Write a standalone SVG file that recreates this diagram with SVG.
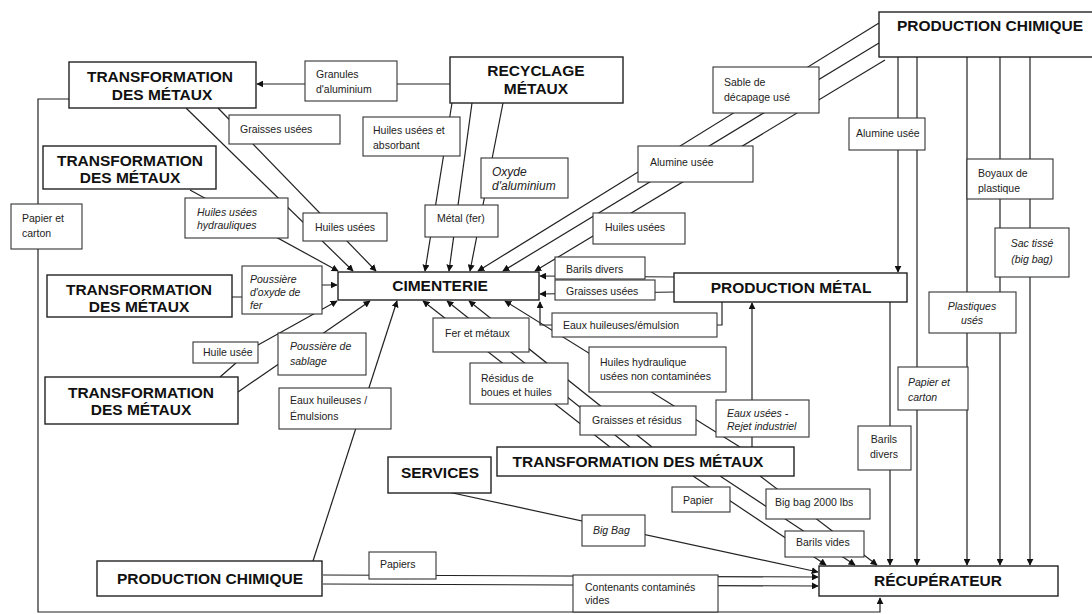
<svg xmlns="http://www.w3.org/2000/svg" width="1092" height="614" viewBox="0 0 1092 614">
<style>
.bg{fill:#fff}
.n{fill:#fff;stroke:#222;stroke-width:1.4}
.l{fill:#fff;stroke:#333;stroke-width:1.1}
.t{font-family:"Liberation Sans",Arial,sans-serif;font-weight:bold;font-size:15.5px;fill:#111;text-anchor:middle}
.s{font-family:"Liberation Sans",Arial,sans-serif;font-size:10.5px;fill:#222}
.i{font-style:italic}
.c{text-anchor:middle}
.e{fill:none;stroke:#222;stroke-width:1.2}
.a{marker-end:url(#ah)}
</style>
<defs>
<marker id="ah" viewBox="0 0 10 10" refX="9" refY="5" markerWidth="7" markerHeight="7" markerUnits="userSpaceOnUse" orient="auto">
<path d="M0,0 L10,5 L0,10 z" fill="#111"/>
</marker>
</defs>
<rect class="bg" x="0" y="0" width="1092" height="614"/>

<g id="connectors">
<path class="e a" d="M69,99 H38 V612 H880 V598"/>
<path class="e a" d="M450,84 H257"/>
<path class="e a" d="M186,108 L353,271"/>
<path class="e a" d="M218,108 L376,271"/>
<path class="e a" d="M190,190 L338,271"/>
<path class="e a" d="M452,103 L425,271"/>
<path class="e a" d="M472,103 L449,271"/>
<path class="e a" d="M503,103 L470,271"/>
<path class="e a" d="M879,23 L478,271"/>
<path class="e a" d="M879,43 L503,271"/>
<path class="e a" d="M885,60 L535,271"/>
<path class="e a" d="M675,277 L540,276"/>
<path class="e a" d="M675,292 L540,294"/>
<path class="e a" d="M722,302 V325 H540 V302"/>
<path class="e a" d="M898,57 V272"/>
<path class="e a" d="M917,57 V565"/>
<path class="e a" d="M967,57 V565"/>
<path class="e a" d="M1000,57 V565"/>
<path class="e a" d="M1030,57 V565"/>
<path class="e a" d="M890,302 V565"/>
<path class="e a" d="M232,297 H242 M322,285 H337"/>
<path class="e a" d="M220,377 L236,363 M258,345 L337,301"/>
<path class="e a" d="M238,392 L370,301"/>
<path class="e a" d="M313,561 L397,301"/>
<path class="e a" d="M610,447 L423,301"/>
<path class="e a" d="M630,447 L447,301"/>
<path class="e a" d="M652,447 L469,301"/>
<path class="e a" d="M740,447 L505,301"/>
<path class="e a" d="M752,447 V303"/>
<path class="e a" d="M693,476 L826,565"/>
<path class="e a" d="M720,476 L855,565"/>
<path class="e a" d="M760,476 L877,565"/>
<path class="e a" d="M448,492 L818,572"/>
<path class="e a" d="M323,575 L818,577"/>
<path class="e a" d="M323,584 L818,586"/>
</g>

<g id="lbl-granules"><rect class="l" x="305" y="61" width="92" height="40"/><text class="s" x="316" y="78">Granules</text><text class="s" x="316" y="93">d'aluminium</text></g>
<g id="lbl-graisses1"><rect class="l" x="229" y="115" width="111" height="29"/><text class="s" x="240" y="133">Graisses usées</text></g>
<g id="lbl-huiles-abs"><rect class="l" x="363" y="117" width="97" height="39"/><text class="s" x="373" y="134">Huiles usées et</text><text class="s" x="373" y="149">absorbant</text></g>
<g id="lbl-oxyde"><rect class="l" x="481" y="158" width="87" height="40"/><text class="s i" x="492" y="176" style="font-size:12px">Oxyde</text><text class="s i" x="492" y="190" style="font-size:12px">d'aluminium</text></g>
<g id="lbl-sable"><rect class="l" x="713" y="67" width="106" height="46"/><text class="s" x="724" y="86">Sable de</text><text class="s" x="724" y="101">décapage usé</text></g>
<g id="lbl-alumine1"><rect class="l" x="638" y="146" width="115" height="36"/><text class="s" x="650" y="166">Alumine usée</text></g>
<g id="lbl-alumine2"><rect class="l" x="849" y="118" width="76" height="32"/><text class="s" x="856" y="137">Alumine usée</text></g>
<g id="lbl-boyaux"><rect class="l" x="967" y="159" width="86" height="40"/><text class="s" x="978" y="177">Boyaux de</text><text class="s" x="978" y="192">plastique</text></g>
<g id="lbl-sac"><rect class="l" x="995" y="228" width="74" height="49"/><text class="s c i" x="1032" y="247">Sac tissé</text><text class="s c i" x="1032" y="263">(big bag)</text></g>
<g id="lbl-plastiques"><rect class="l" x="929" y="292" width="87" height="41"/><text class="s c i" x="972" y="310">Plastiques</text><text class="s c i" x="972" y="324">usés</text></g>
<g id="lbl-papier-r"><rect class="l" x="898" y="367" width="70" height="43"/><text class="s i" x="908" y="386">Papier et</text><text class="s i" x="908" y="401">carton</text></g>
<g id="lbl-barils-r"><rect class="l" x="858" y="426" width="53" height="44"/><text class="s c" x="884" y="443">Barils</text><text class="s c" x="884" y="458">divers</text></g>
<g id="lbl-papier-l"><rect class="l" x="11" y="204" width="71" height="45"/><text class="s" x="22" y="222">Papier et</text><text class="s" x="22" y="237">carton</text></g>
<g id="lbl-hydr"><rect class="l" x="185" y="198" width="103" height="40"/><text class="s i" x="197" y="216">Huiles usées</text><text class="s i" x="197" y="229">hydrauliques</text></g>
<g id="lbl-huiles1"><rect class="l" x="303" y="213" width="84" height="28"/><text class="s c" x="345" y="231">Huiles usées</text></g>
<g id="lbl-metal"><rect class="l" x="425" y="205" width="73" height="32"/><text class="s" x="437" y="222">Métal (fer)</text></g>
<g id="lbl-huiles2"><rect class="l" x="593" y="213" width="92" height="31"/><text class="s" x="605" y="231">Huiles usées</text></g>
<g id="lbl-barils1"><rect class="l" x="555" y="257" width="90" height="22"/><text class="s" x="566" y="273">Barils divers</text></g>
<g id="lbl-graisses2"><rect class="l" x="555" y="280" width="100" height="20"/><text class="s" x="566" y="295">Graisses usées</text></g>
<g id="lbl-eaux-emul"><rect class="l" x="552" y="313" width="165" height="24"/><text class="s" x="563" y="329">Eaux huileuses/émulsion</text></g>
<g id="lbl-fer"><rect class="l" x="433" y="318" width="96" height="34"/><text class="s" x="445" y="337">Fer et métaux</text></g>
<g id="lbl-hydr2"><rect class="l" x="589" y="347" width="137" height="45"/><text class="s" x="600" y="366">Huiles hydraulique</text><text class="s" x="600" y="380">usées non contaminées</text></g>
<g id="lbl-residus"><rect class="l" x="470" y="363" width="98" height="41"/><text class="s" x="481" y="382">Résidus de</text><text class="s" x="481" y="396">boues et huiles</text></g>
<g id="lbl-poussiere-ox"><rect class="l" x="242" y="266" width="80" height="48"/><text class="s i" x="250" y="283">Poussière</text><text class="s i" x="250" y="296">d'oxyde de</text><text class="s i" x="250" y="309">fer</text></g>
<g id="lbl-huile-usee"><rect class="l" x="193" y="342" width="65" height="21"/><text class="s" x="203" y="356">Huile usée</text></g>
<g id="lbl-sablage"><rect class="l" x="278" y="333" width="88" height="42"/><text class="s i" x="290" y="350">Poussière de</text><text class="s i" x="290" y="365">sablage</text></g>
<g id="lbl-eaux-l"><rect class="l" x="279" y="388" width="112" height="41"/><text class="s" x="290" y="404">Eaux huileuses /</text><text class="s" x="290" y="420">Émulsions</text></g>
<g id="lbl-graisses-res"><rect class="l" x="580" y="406" width="116" height="29"/><text class="s" x="592" y="424">Graisses et résidus</text></g>
<g id="lbl-eaux-rejet"><rect class="l" x="716" y="400" width="93" height="37"/><text class="s i" x="727" y="417">Eaux usées -</text><text class="s i" x="727" y="430">Rejet industriel</text></g>
<g id="lbl-papier"><rect class="l" x="672" y="487" width="58" height="25"/><text class="s" x="683" y="504">Papier</text></g>
<g id="lbl-bigbag2000"><rect class="l" x="766" y="489" width="104" height="30"/><text class="s" x="775" y="506">Big bag 2000 lbs</text></g>
<g id="lbl-barils-vides"><rect class="l" x="785" y="531" width="79" height="26"/><text class="s" x="796" y="546">Barils vides</text></g>
<g id="lbl-bigbag"><rect class="l" x="582" y="515" width="63" height="31"/><text class="s i" x="593" y="534">Big Bag</text></g>
<g id="lbl-papiers"><rect class="l" x="369" y="552" width="67" height="27"/><text class="s" x="380" y="568">Papiers</text></g>
<g id="lbl-contenants"><rect class="l" x="573" y="575" width="145" height="37"/><text class="s" x="585" y="591">Contenants contaminés</text><text class="s" x="585" y="604">vides</text></g>

<g id="tdm1"><rect class="n" x="69" y="62" width="187" height="46"/><text class="t" x="160" y="82">TRANSFORMATION</text><text class="t" x="162" y="100">DES MÉTAUX</text></g>
<g id="tdm2"><rect class="n" x="43" y="146" width="173" height="43"/><text class="t" x="130" y="166">TRANSFORMATION</text><text class="t" x="130" y="183">DES MÉTAUX</text></g>
<g id="recyclage"><rect class="n" x="450" y="57" width="173" height="46"/><text class="t" x="536" y="76">RECYCLAGE</text><text class="t" x="536" y="94">MÉTAUX</text></g>
<g id="prod-chim-top"><rect class="n" x="879" y="12" width="220" height="45"/><text class="t" x="990" y="31">PRODUCTION CHIMIQUE</text></g>
<g id="tdm3"><rect class="n" x="47" y="275" width="185" height="42"/><text class="t" x="139" y="295">TRANSFORMATION</text><text class="t" x="139" y="312">DES MÉTAUX</text></g>
<g id="cimenterie"><rect class="n" x="338" y="272" width="201" height="28"/><text class="t" x="440" y="291">CIMENTERIE</text></g>
<g id="prod-metal"><rect class="n" x="674" y="273" width="233" height="29"/><text class="t" x="791" y="293">PRODUCTION MÉTAL</text></g>
<g id="tdm4"><rect class="n" x="45" y="377" width="193" height="47"/><text class="t" x="141" y="398">TRANSFORMATION</text><text class="t" x="141" y="415">DES MÉTAUX</text></g>
<g id="services"><rect class="n" x="388" y="457" width="103" height="36"/><text class="t" x="440" y="478">SERVICES</text></g>
<g id="tdm5"><rect class="n" x="497" y="447" width="297" height="29"/><text class="t" x="638" y="467">TRANSFORMATION DES MÉTAUX</text></g>
<g id="prod-chim-bottom"><rect class="n" x="97" y="561" width="225" height="35"/><text class="t" x="210" y="584">PRODUCTION CHIMIQUE</text></g>
<g id="recuperateur"><rect class="n" x="819" y="566" width="239" height="30"/><text class="t" x="938" y="586">RÉCUPÉRATEUR</text></g>
</svg>
